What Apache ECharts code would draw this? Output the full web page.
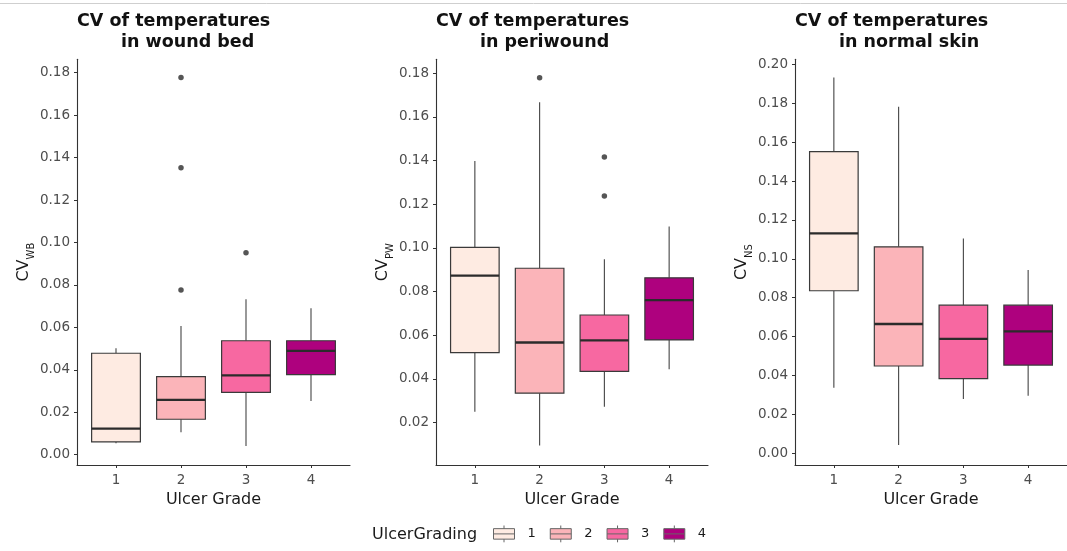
<!DOCTYPE html>
<html>
<head>
<meta charset="utf-8">
<script src="https://cdn.jsdelivr.net/npm/echarts@6/dist/echarts.min.js"></script>
<style>
html,body{margin:0;padding:0;background:#fff;}
#chart{width:1067px;height:551px;}
</style>
</head>
<body>
<div id="chart"></div>
<script>
// ---- data ----
const grades = ['1', '2', '3', '4'];
const gradeX = [1, 2, 3, 4];
const gradeColors = ['#FEEBE2', '#FBB4B9', '#F768A1', '#AE017E'];

// [lower whisker, Q1, median, Q3, upper whisker] per grade
const woundBedStats = [
  [0.0054, 0.0060, 0.0123, 0.0478, 0.0501],
  [0.0106, 0.0167, 0.0258, 0.0368, 0.0607],
  [0.0041, 0.0294, 0.0374, 0.0537, 0.0732],
  [0.0253, 0.0377, 0.0489, 0.0537, 0.0690]
];
const woundBedOutliers = [[2, 0.0776], [2, 0.1352], [2, 0.1777], [3, 0.0952]];

const periwoundStats = [
  [0.0250, 0.0521, 0.0873, 0.1003, 0.1398],
  [0.0095, 0.0335, 0.0567, 0.0907, 0.1667],
  [0.0273, 0.0435, 0.0577, 0.0693, 0.0948],
  [0.0445, 0.0579, 0.0761, 0.0863, 0.1098]
];
const periwoundOutliers = [[2, 0.1780], [3, 0.1417], [3, 0.1238]];

const normalSkinStats = [
  [0.0337, 0.0836, 0.1131, 0.1551, 0.1933],
  [0.0043, 0.0449, 0.0665, 0.1062, 0.1782],
  [0.0279, 0.0384, 0.0588, 0.0762, 0.1105],
  [0.0296, 0.0454, 0.0627, 0.0762, 0.0942]
];
const normalSkinOutliers = [];

const woundBedTicks = [0, 0.02, 0.04, 0.06, 0.08, 0.10, 0.12, 0.14, 0.16, 0.18];
const periwoundTicks = [0.02, 0.04, 0.06, 0.08, 0.10, 0.12, 0.14, 0.16, 0.18];
const normalSkinTicks = [0, 0.02, 0.04, 0.06, 0.08, 0.10, 0.12, 0.14, 0.16, 0.18, 0.20];

const titleLine1 = 'CV of temperatures';
const titleLine2 = ['in wound bed', 'in periwound', 'in normal skin'];
const ySubscripts = ['WB', 'PW', 'NS'];
const xTitle = 'Ulcer Grade';
const legendTitle = 'UlcerGrading';

// ---- layout ----
const FONT = 'DejaVu Sans';
const panels = [
  { left: 77, width: 273, min: -0.00485, max: 0.1863, stats: woundBedStats, outliers: woundBedOutliers, ticks: woundBedTicks },
  { left: 436, width: 272, min: 0.0006, max: 0.1864, stats: periwoundStats, outliers: periwoundOutliers, ticks: periwoundTicks },
  { left: 795, width: 274, min: -0.0060, max: 0.2026, stats: normalSkinStats, outliers: normalSkinOutliers, ticks: normalSkinTicks }
];
const gridTop = 59.3, gridHeight = 405.7;

function renderBox(params, api) {
  const x = api.value(0);
  const pLow = api.coord([x, api.value(1)]);
  const pQ1 = api.coord([x, api.value(2)]);
  const pMed = api.coord([x, api.value(3)]);
  const pQ3 = api.coord([x, api.value(4)]);
  const pHigh = api.coord([x, api.value(5)]);
  const w = api.size([0.75, 0])[0];
  const cx = pLow[0];
  const stroke = '#3a3a3a';
  return {
    type: 'group',
    children: [
      { type: 'line', shape: { x1: cx, y1: pHigh[1], x2: cx, y2: pQ3[1] }, style: { stroke: '#444', lineWidth: 1.1 } },
      { type: 'line', shape: { x1: cx, y1: pQ1[1], x2: cx, y2: pLow[1] }, style: { stroke: '#444', lineWidth: 1.1 } },
      { type: 'rect', shape: { x: cx - w / 2, y: pQ3[1], width: w, height: pQ1[1] - pQ3[1] },
        style: { fill: api.visual('color'), stroke: stroke, lineWidth: 1.2 } },
      { type: 'line', shape: { x1: cx - w / 2, y1: pMed[1], x2: cx + w / 2, y2: pMed[1] }, style: { stroke: '#2b2b2b', lineWidth: 2.3 } }
    ]
  };
}

const grid = [], xAxis = [], yAxis = [], series = [], title = [];
panels.forEach((p, i) => {
  grid.push({ left: p.left, top: gridTop, width: p.width, height: gridHeight });
  xAxis.push({
    gridIndex: i, type: 'value', min: 0.4, max: 4.6,
    axisLine: { onZero: false, lineStyle: { color: '#333', width: 1.1 } },
    axisTick: { customValues: gradeX, length: 3, lineStyle: { color: '#333' } },
    axisLabel: { customValues: gradeX, margin: 8, color: '#4d4d4d', fontSize: 13.5, fontFamily: FONT,
      formatter: v => grades[gradeX.indexOf(v)] },
    splitLine: { show: false },
    name: xTitle, nameLocation: 'middle', nameGap: 23,
    nameTextStyle: { fontSize: 16, color: '#1a1a1a', fontFamily: FONT }
  });
  yAxis.push({
    gridIndex: i, type: 'value', min: p.min, max: p.max,
    axisLine: { show: true, onZero: false, lineStyle: { color: '#333', width: 1.1 } },
    axisTick: { show: true, customValues: p.ticks, length: 3, lineStyle: { color: '#333' } },
    axisLabel: { customValues: p.ticks, margin: 7, color: '#4d4d4d', fontSize: 13.5, fontFamily: FONT,
      formatter: v => v.toFixed(2) },
    splitLine: { show: false },
    name: '{a|CV}{b|' + ySubscripts[i] + '}', nameLocation: 'middle', nameGap: 41,
    nameTextStyle: {
      rich: {
        a: { fontSize: 16, color: '#1a1a1a', fontFamily: FONT, lineHeight: 24 },
        b: { fontSize: 10, color: '#1a1a1a', fontFamily: FONT, lineHeight: 10, verticalAlign: 'bottom' }
      }
    }
  });
  grades.forEach((g, k) => {
    series.push({
      type: 'custom', name: g, xAxisIndex: i, yAxisIndex: i,
      itemStyle: { color: gradeColors[k] },
      renderItem: renderBox,
      encode: { x: 0, y: [1, 2, 3, 4, 5] },
      data: [[gradeX[k]].concat(p.stats[k])],
      silent: true
    });
  });
  series.push({
    type: 'scatter', name: 'outliers', xAxisIndex: i, yAxisIndex: i,
    symbolSize: 5.5, itemStyle: { color: '#2b2b2b' },
    data: p.outliers, silent: true
  });
  const ts = { fontFamily: FONT, fontWeight: 'bold', fontSize: 17.5, color: '#111' };
  title.push({ text: titleLine1, left: p.left, top: 12, padding: 0, textStyle: ts });
  title.push({ text: titleLine2[i], left: p.left + 44, top: 33, padding: 0, textStyle: ts });
});

const chart = echarts.init(document.getElementById('chart'), null, { renderer: 'canvas' });
chart.setOption({
  animation: false,
  backgroundColor: '#fff',
  title: title,
  grid: grid,
  xAxis: xAxis,
  yAxis: yAxis,
  series: series,
  legend: {
    data: grades,
    left: 493, top: 525, padding: 0,
    itemWidth: 21, itemHeight: 18, itemGap: 14,
    icon: 'path://M0,3H20V13H0Z M0,8H20 M10,0V3 M10,13V16',
    itemStyle: { borderColor: '#666', borderWidth: 1 },
    textStyle: { fontFamily: FONT, fontSize: 13, color: '#1a1a1a', padding: [0, 0, 0, 8] },
    selectedMode: false
  },
  graphic: [
    { type: 'line', shape: { x1: 0, y1: 3.5, x2: 1067, y2: 3.5 }, style: { stroke: '#cfcfcf', lineWidth: 1 } },
    { type: 'text', left: 372, top: 527, style: { text: legendTitle, font: '16px "DejaVu Sans"', fill: '#1a1a1a' } }
  ]
});
</script>
</body>
</html>
